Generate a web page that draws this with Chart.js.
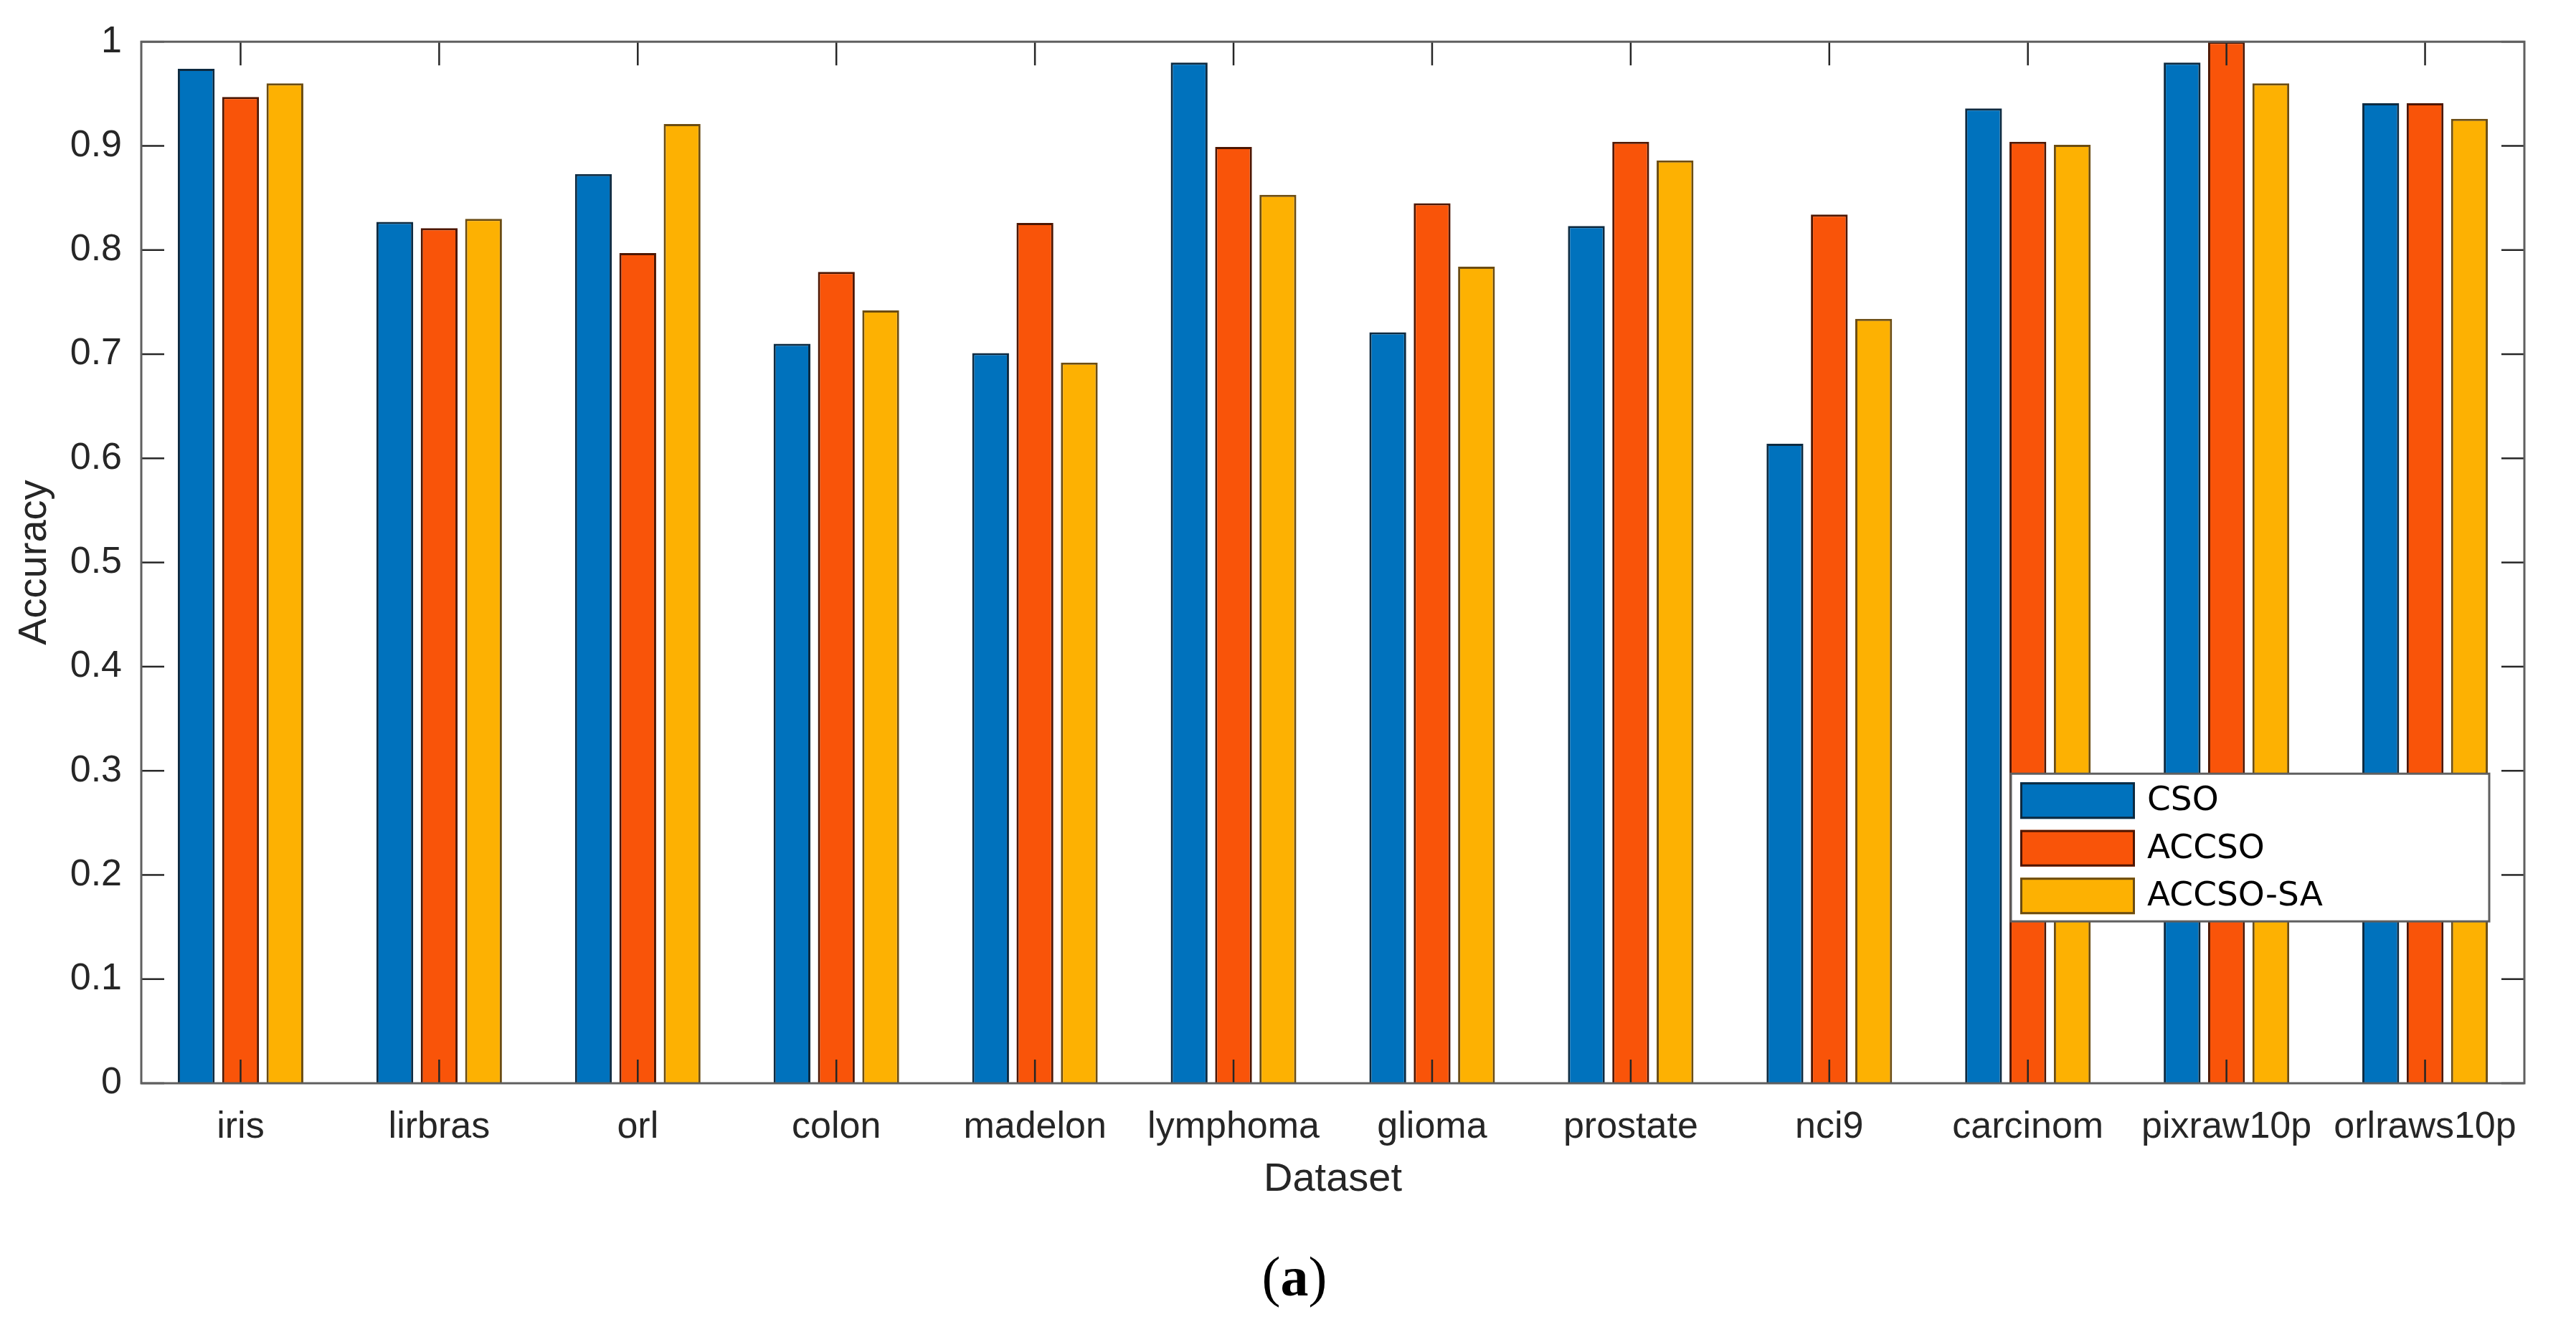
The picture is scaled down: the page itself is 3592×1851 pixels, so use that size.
<!DOCTYPE html>
<html><head><meta charset="utf-8">
<script src="https://cdn.jsdelivr.net/npm/chart.js@4.4.0/dist/chart.umd.min.js"></script>
<style>html,body{margin:0;padding:0;background:#fff;overflow:hidden}canvas{display:block}</style>
</head><body>
<canvas id="c" width="3592" height="1851" style="width:3592px;height:1851px"></canvas>
<script>
const categories = ['iris','lirbras','orl','colon','madelon','lymphoma','glioma','prostate','nci9','carcinom','pixraw10p','orlraws10p'];
const seriesNames = ['CSO','ACCSO','ACCSO-SA'];
const csoValues = [0.974,0.827,0.873,0.710,0.701,0.980,0.721,0.823,0.614,0.936,0.980,0.941];
const accsoValues = [0.947,0.821,0.797,0.779,0.826,0.899,0.845,0.904,0.834,0.904,1.000,0.941];
const accsoSaValues = [0.960,0.830,0.921,0.742,0.692,0.853,0.784,0.886,0.734,0.901,0.960,0.926];
const yTickLabels = ['0','0.1','0.2','0.3','0.4','0.5','0.6','0.7','0.8','0.9','1'];
const xAxisTitle = 'Dataset';
const yAxisTitle = 'Accuracy';
const captionParts = ['(', 'a', ')'];

const fillColors = ['#0072BD', '#F95409', '#FDB102'];
const edgeColors = ['#0d2a40', '#4d1602', '#6b4c12'];
const FONT = '"Liberation Sans", Arial, sans-serif';
const TXT = '#262626';

const datasets = [csoValues, accsoValues, accsoSaValues].map((d, i) => ({
  label: seriesNames[i], data: d,
  backgroundColor: fillColors[i], borderColor: edgeColors[i], borderWidth: 3,
  categoryPercentage: 0.67, barPercentage: 0.83
}));

function line(ctx, x1, y1, x2, y2) { ctx.beginPath(); ctx.moveTo(x1, y1); ctx.lineTo(x2, y2); ctx.stroke(); }

const decor = {
  id: 'decor',
  afterDatasetsDraw(chart) {
    const {ctx, chartArea: a, scales: {x, y}} = chart;
    ctx.save();
    // inner tick marks on all four sides
    ctx.strokeStyle = '#262626'; ctx.lineWidth = 2.5;
    y.ticks.forEach((t, i) => {
      const py = y.getPixelForTick(i);
      line(ctx, a.left, py, a.left + 32, py);
      line(ctx, a.right - 32, py, a.right, py);
    });
    x.ticks.forEach((t, i) => {
      const px = x.getPixelForTick(i);
      line(ctx, px, a.bottom, px, a.bottom - 33);
      line(ctx, px, a.top, px, a.top + 33);
    });
    // box
    ctx.strokeStyle = '#5f5f5f'; ctx.lineWidth = 3;
    ctx.strokeRect(a.left, a.top, a.right - a.left, a.bottom - a.top);

    // legend
    const lx = a.right - 716, ly = a.top + 1021, lw = 667, lh = 206;
    ctx.fillStyle = '#ffffff'; ctx.fillRect(lx, ly, lw, lh);
    ctx.strokeStyle = '#5f5f5f'; ctx.lineWidth = 3; ctx.strokeRect(lx, ly, lw, lh);
    ctx.font = '47px "DejaVu Sans", sans-serif';
    ctx.textBaseline = 'middle'; ctx.textAlign = 'left';
    chart.data.datasets.forEach((ds, i) => {
      const sy = ly + 12 + i * 66.5;
      ctx.fillStyle = ds.backgroundColor; ctx.fillRect(lx + 13, sy, 160, 51);
      ctx.strokeStyle = ds.borderColor; ctx.lineWidth = 3; ctx.strokeRect(lx + 14.5, sy + 1.5, 157, 48);
      ctx.fillStyle = '#000'; ctx.fillText(ds.label, lx + 190, sy + 27);
    });

    // caption
    const fReg = '78px "Liberation Serif", "Times New Roman", serif';
    const fBold = 'bold 78px "Liberation Serif", "Times New Roman", serif';
    const fonts = [fReg, fBold, fReg];
    let widths = captionParts.map((p, i) => { ctx.font = fonts[i]; return ctx.measureText(p).width; });
    let cx = 1805 - widths.reduce((s, w) => s + w, 0) / 2;
    ctx.fillStyle = '#000'; ctx.textBaseline = 'alphabetic';
    captionParts.forEach((p, i) => { ctx.font = fonts[i]; ctx.fillText(p, cx, 1807); cx += widths[i]; });
    ctx.restore();
  }
};

new Chart(document.getElementById('c'), {
  type: 'bar',
  data: { labels: categories, datasets },
  options: {
    responsive: false, devicePixelRatio: 1, animation: false,
    layout: { padding: { left: 0, right: 72, top: 58, bottom: 0 } },
    plugins: { legend: { display: false }, tooltip: { enabled: false }, title: { display: false } },
    scales: {
      x: {
        offset: true,
        grid: { display: false, drawTicks: false }, border: { display: false },
        ticks: { font: { family: FONT, size: 52 }, color: TXT, padding: 30, maxRotation: 0, autoSkip: false },
        title: { display: true, text: xAxisTitle, font: { family: FONT, size: 56 }, color: TXT, padding: { top: 0, bottom: 172 } },
        afterFit: s => { s.height = 340; }
      },
      y: {
        min: 0, max: 1,
        grid: { display: false, drawTicks: false }, border: { display: false },
        ticks: { stepSize: 0.1, callback: (v, i) => yTickLabels[i], font: { family: FONT, size: 52 }, color: TXT, padding: 27 },
        title: { display: true, text: yAxisTitle, font: { family: FONT, size: 56 }, color: TXT, padding: { top: 15, bottom: 0 } },
        afterFit: s => { s.width = 197; }
      }
    }
  },
  plugins: [decor]
});
</script>
</body></html>
